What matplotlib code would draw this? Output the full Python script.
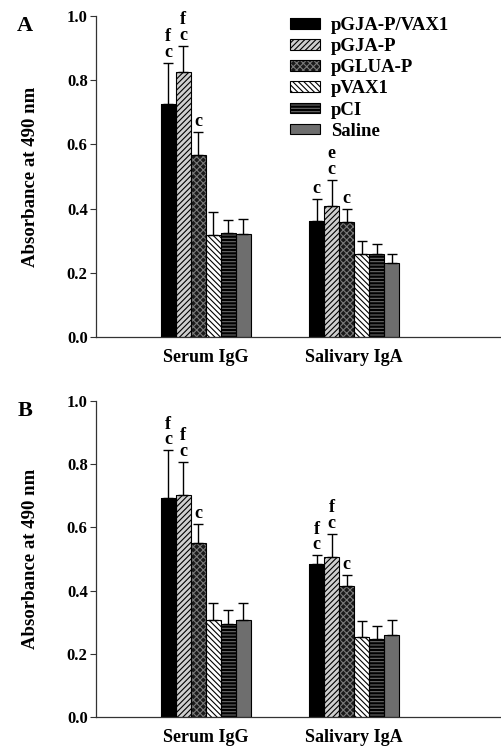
import numpy as np
import matplotlib
matplotlib.use("Agg")
import matplotlib.pyplot as plt
from matplotlib.patches import Patch
from matplotlib.legend_handler import HandlerTuple

plt.rcParams['font.family'] = ['Liberation Serif', 'DejaVu Serif']
plt.rcParams['font.weight'] = 'bold'
plt.rcParams['hatch.linewidth'] = 0.8

groups = ["Serum IgG", "Salivary IgA"]
series = ["pGJA-P/VAX1", "pGJA-P", "pGLUA-P", "pVAX1", "pCI", "Saline"]

# panel A, absorbance means and upper error
a_serum = [0.727, 0.826, 0.566, 0.318, 0.324, 0.321]
a_serum_err = [0.126, 0.080, 0.072, 0.070, 0.039, 0.047]
a_saliva = [0.361, 0.409, 0.358, 0.258, 0.259, 0.230]
a_saliva_err = [0.070, 0.079, 0.041, 0.040, 0.031, 0.029]

# panel B
b_serum = [0.692, 0.702, 0.550, 0.308, 0.295, 0.308]
b_serum_err = [0.152, 0.105, 0.062, 0.054, 0.043, 0.054]
b_saliva = [0.485, 0.507, 0.415, 0.252, 0.247, 0.259]
b_saliva_err = [0.027, 0.072, 0.034, 0.051, 0.042, 0.048]

# significance letters (bottom to top) per bar
a_serum_sig = [["c", "f"], ["c", "f"], ["c"], [], [], []]
a_saliva_sig = [["c"], ["c", "e"], ["c"], [], [], []]
b_serum_sig = [["c", "f"], ["c", "f"], ["c"], [], [], []]
b_saliva_sig = [["c", "f"], ["c", "f"], ["c"], [], [], []]

# face, hatch, hatch colour
styles = [
    ("black", "", "black"),
    ("#cfcfcf", "//////", "black"),
    ("#1a1a1a", "xxxxx", "#7a7a7a"),
    ("white", "\\\\\\\\\\\\", "black"),
    ("black", "-----", "#6a6a6a"),
    ("#6e6e6e", "", "#6e6e6e"),
]

w = 0.101
xpos = np.array([1.0, 2.0])


def panel(ax, serum, serum_err, saliva, saliva_err, serum_sig, saliva_sig, tag):
    handles = []
    for i in range(6):
        fc, hatch, hc = styles[i]
        vals = [serum[i], saliva[i]]
        errs = [serum_err[i], saliva_err[i]]
        x = xpos + (i - 2.5) * w
        ax.bar(x, vals, w, color=fc, hatch=hatch, edgecolor=hc, linewidth=0, zorder=2)
        ax.bar(x, vals, w, fill=False, edgecolor="black", linewidth=0.8, zorder=3)
        ax.errorbar(x, vals, yerr=[[0, 0], errs], fmt="none", ecolor="black",
                    elinewidth=1, capsize=3.5, capthick=1, zorder=4)
        for xi, top, sig in zip(x, np.array(vals) + np.array(errs), [serum_sig[i], saliva_sig[i]]):
            for k, s in enumerate(sig):
                ax.text(xi, top + 0.006 + k * 0.05, s, ha="center", va="bottom",
                        fontsize=13, fontweight="bold")
        outline = Patch(fill=False, edgecolor="black", linewidth=0.8)
        fill = Patch(facecolor=fc, hatch=hatch, edgecolor=hc, linewidth=0)
        handles.append((fill, outline))

    ax.set_xlim(0.262, 2.98)
    ax.set_ylim(0, 1.0)
    ax.set_yticks([0.0, 0.2, 0.4, 0.6, 0.8, 1.0])
    ax.set_yticklabels(["0.0", "0.2", "0.4", "0.6", "0.8", "1.0"], fontsize=12, fontweight="bold")
    ax.set_xticks(xpos)
    ax.set_xticklabels(groups, fontsize=13, fontweight="bold")
    ax.tick_params(axis="x", length=0, pad=9)
    ax.tick_params(axis="y", length=4, width=0.8, color="#333333", pad=2)
    for s in ["top", "right"]:
        ax.spines[s].set_visible(False)
    for s in ["left", "bottom"]:
        ax.spines[s].set_color("#333333")
        ax.spines[s].set_linewidth(0.9)
    ax.set_ylabel("Absorbance at 490 nm", fontsize=13.5, fontweight="bold", labelpad=20)
    ax.text(-0.195, 1.0, tag, transform=ax.transAxes, fontsize=16, fontweight="bold",
            ha="left", va="top")
    return handles


fig = plt.figure(figsize=(5.01, 7.51), dpi=100)
ax1 = fig.add_axes([0.1916, 0.5513, 0.806, 0.4274])
ax2 = fig.add_axes([0.1916, 0.0453, 0.806, 0.4207])

h = panel(ax1, a_serum, a_serum_err, a_saliva, a_saliva_err, a_serum_sig, a_saliva_sig, "A")
panel(ax2, b_serum, b_serum_err, b_saliva, b_saliva_err, b_serum_sig, b_saliva_sig, "B")

ax1.legend(h, series, handler_map={tuple: HandlerTuple(ndivide=1, pad=0)},
           loc="upper left", bbox_to_anchor=(0.463, 1.02), frameon=False,
           prop={"size": 13.5, "weight": "bold"}, handlelength=1.6, handleheight=0.5,
           labelspacing=0.22, handletextpad=0.55, borderaxespad=0)

fig.savefig("out.png", dpi=100)
